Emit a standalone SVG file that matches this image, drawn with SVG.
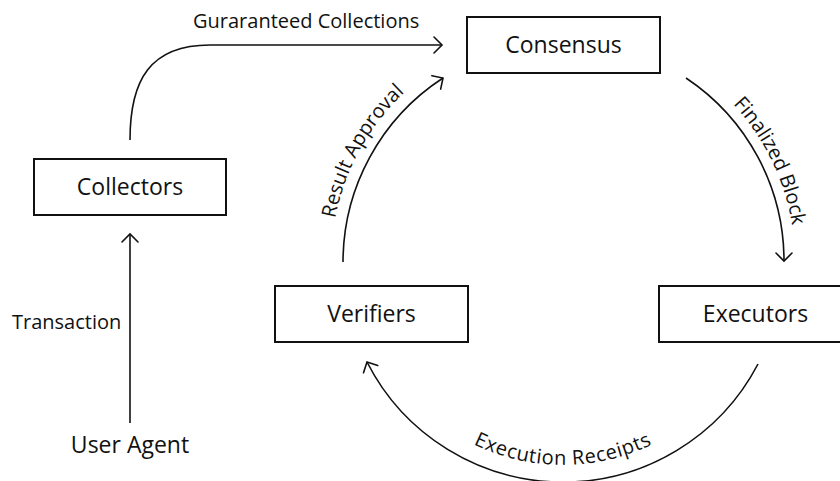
<svg xmlns="http://www.w3.org/2000/svg" width="840" height="481" viewBox="0 0 840 481">
<style>
  .box { fill: #ffffff; stroke: #111111; stroke-width: 2; }
  .lbl { font-family: "Open Sans", "Noto Sans", "DejaVu Sans", sans-serif; fill: #111111; }
  .node { font-size: 23px; text-anchor: middle; }
  .edge { font-size: 20px; }
  .conn { fill: none; stroke: #111111; stroke-width: 1.6; marker-end: url(#arrow); }
</style>
<defs>
  <marker id="arrow" markerUnits="userSpaceOnUse" viewBox="-10 -10 20 20" refX="0" refY="0" markerWidth="20" markerHeight="20" orient="auto">
    <path d="M-8,-8 L0,0 L-8,8" fill="none" stroke="#111111" stroke-width="1.6" stroke-linecap="round" stroke-linejoin="miter"/>
  </marker>
  <path id="tpResult" d="M331,262 A232,232 0 0,1 563,30"/>
  <path id="tpFinal" d="M563,30 A232,232 0 0,1 795,262"/>
  <path id="tpExec" d="M360,262 A203,203 0 0,0 766,262"/>
</defs>
<rect width="840" height="481" fill="#ffffff"/>

<g id="connectors">
  <path class="conn" d="M130,423 L130,234"/>
  <path class="conn" d="M130,140 C130,80 150,45 210,45 L442,45"/>
  <path class="conn" d="M343,262 A220,220 0 0,1 443,78"/>
  <path class="conn" d="M686,78 A220,220 0 0,1 784,261"/>
  <path class="conn" d="M758,364 A220,220 0 0,1 367,362"/>
  <text class="lbl edge" x="12" y="329">Transaction</text>
  <text class="lbl edge" x="193" y="28">Guraranteed Collections</text>
  <text class="lbl edge"><textPath href="#tpResult" startOffset="117" text-anchor="middle">Result Approval</textPath></text>
  <text class="lbl edge"><textPath href="#tpFinal" startOffset="259" text-anchor="middle">Finalized Block</textPath></text>
  <text class="lbl edge" letter-spacing="0.6"><textPath href="#tpExec" startOffset="50%" text-anchor="middle">Execution Receipts</textPath></text>
</g>

<g id="node-consensus">
  <rect class="box" x="467" y="17" width="193" height="56"/>
  <text class="lbl node" x="563.5" y="53">Consensus</text>
</g>
<g id="node-collectors">
  <rect class="box" x="34" y="159" width="192" height="56"/>
  <text class="lbl node" x="130" y="195">Collectors</text>
</g>
<g id="node-verifiers">
  <rect class="box" x="275" y="286" width="193" height="56"/>
  <text class="lbl node" x="371.5" y="322">Verifiers</text>
</g>
<g id="node-executors">
  <rect class="box" x="659" y="286" width="193" height="56"/>
  <text class="lbl node" x="755.5" y="322">Executors</text>
</g>
<g id="node-useragent">
  <text class="lbl node" x="130" y="453">User Agent</text>
</g>
</svg>
